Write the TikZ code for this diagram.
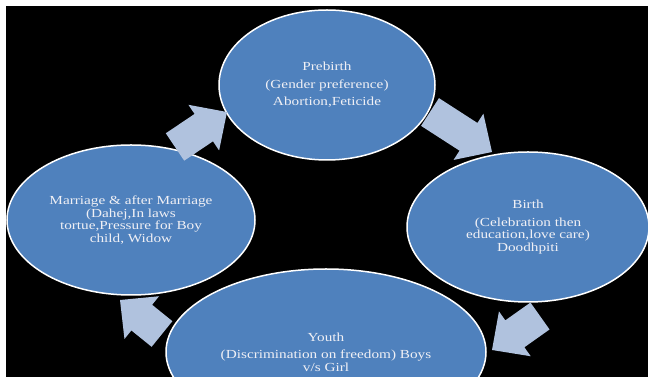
\documentclass[tikz,border=0pt]{standalone}
\usepackage{xcolor}
\usepackage{fontspec}
\usepackage{tikz}
\usetikzlibrary{calc}
\usetikzlibrary{shapes.geometric}
\newfontfamily\stretchserif[FakeStretch=1.24]{Liberation Serif}
\definecolor{cyclefill}{rgb}{0.31,0.506,0.741}
\definecolor{arrowfill}{rgb}{0.69,0.76,0.87}
\definecolor{textgray}{rgb}{0.94,0.94,0.96}
\tikzstyle{every node}=[font=\stretchserif\fontsize{12.3}{12.5}\selectfont]
\tikzstyle{stage}=[ellipse,draw=white,line width=1.5pt,fill=cyclefill,text=textgray,align=center,inner sep=0pt]
% block arrow from #1 (tail) to #2 (tip)
\newcommand{\cyclearrow}[2]{%
  \coordinate (#1base) at ($(#2)!28pt!(#1)$);
  \fill[arrowfill] ($(#1)!16.5pt!90:(#2)$) -- ($(#1base)!16.5pt!-90:(#1)$) -- ($(#1base)!27.5pt!-90:(#1)$) -- (#2) -- ($(#1base)!27.5pt!90:(#1)$) -- ($(#1base)!16.5pt!90:(#1)$) -- ($(#1)!16.5pt!-90:(#2)$) -- cycle;
}

\begin{document}
\begin{tikzpicture}[line cap=round,line join=miter,x=1pt,y=1pt]
                    \useasboundingbox (0,0) rectangle (648,377);
                    \clip (0,0) rectangle (648,377);
                    \fill [white] (0,0) rectangle (648,377);
                    \fill [black] (6,0) rectangle (648,371);
                    \node [stage,minimum width=216pt,minimum height=150pt] (pre) at (327,292) {Prebirth\\[5pt](Gender preference)\\[5pt]Abortion,Feticide};
                    \node [stage,minimum width=242pt,minimum height=150pt] (birth) at (528,150) {Birth\\[5pt](Celebration then\\education,love care)\\Doodhpiti};
                    \node [stage,minimum width=320pt,minimum height=166pt] (youth) at (326,25) {Youth\\[5pt](Discrimination on freedom) Boys\\v/s Girl};
                    \node [stage,minimum width=248pt,minimum height=150pt] (marr) at (131,157) {Marriage \& after Marriage\\(Dahej,In laws\\tortue,Pressure for Boy\\child, Widow};
                    \coordinate (atail) at (175,230);
                    \coordinate (ahead) at (227,265);
                    \coordinate (btail) at (430,265);
                    \coordinate (bhead) at (492,225);
                    \coordinate (ctail) at (540,61);
                    \coordinate (chead) at (492,27);
                    \coordinate (dtail) at (162,43);
                    \coordinate (dhead) at (120,77);
                    \cyclearrow{atail}{ahead}
                    \cyclearrow{btail}{bhead}
                    \cyclearrow{ctail}{chead}
                    \cyclearrow{dtail}{dhead}
                    \end{tikzpicture}
\end{document}
